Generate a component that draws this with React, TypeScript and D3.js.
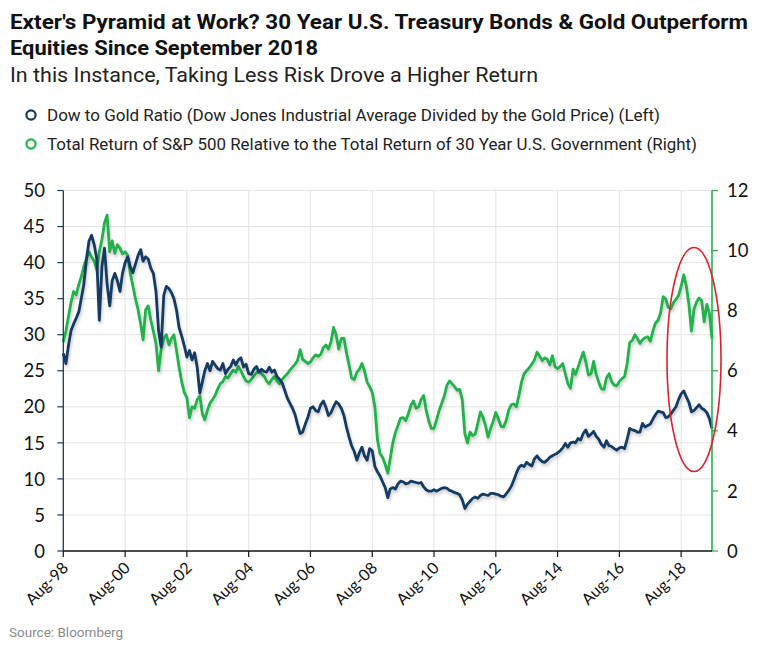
import React from 'react';
import * as d3 from 'd3';

// Monthly observations, Aug 1998 .. Aug 2019
const startYear = 1998;
const startMonth = 7; // August (0-based)

// Dow Jones Industrial Average divided by gold price (left axis)
const dowGold = [
  27.4, 26.0, 28.5, 30.6, 31.5, 32.3, 33.2, 35.0, 37.0, 40.4, 43.0, 43.8,
  42.5, 40.5, 32.0, 39.5, 42.0, 37.0, 34.0, 37.5, 38.5, 37.5, 36.0, 38.5,
  40.0, 40.8, 39.4, 38.6, 39.8, 41.0, 41.8, 40.2, 40.8, 40.5, 39.2, 38.5,
  36.0, 30.5, 28.3, 35.5, 36.7, 36.4, 35.8, 35.0, 33.4, 31.0, 29.8, 28.5,
  26.9, 27.8, 26.5, 27.5, 25.5, 21.9, 23.5, 25.0, 26.0, 25.0, 26.3, 25.8,
  25.3, 25.1, 26.0, 24.6, 25.2, 25.6, 26.5, 25.8, 26.5, 26.8, 25.5, 25.9,
  24.6, 24.5, 25.2, 25.6, 24.8, 25.2, 24.9, 24.8, 25.5, 24.8, 25.1, 24.2,
  23.8, 23.3, 22.3, 21.2, 20.5, 19.8, 18.9, 17.6, 16.3, 16.5, 17.6, 18.5,
  19.8, 20.0, 19.5, 19.3, 20.3, 20.8, 19.9, 18.8, 19.2, 20.0, 20.7, 20.4,
  19.8, 18.8, 17.2, 15.8, 14.6, 13.8, 12.6, 13.6, 14.4, 13.2, 12.6, 14.2,
  13.9, 11.7, 11.0, 10.4, 9.6, 8.8, 7.4, 8.6, 8.8, 8.6, 9.3, 9.7,
  9.6, 9.3, 9.4, 9.7, 9.6, 9.5, 9.4, 9.5, 8.9, 8.5, 8.3, 8.3,
  8.5, 8.3, 8.5, 8.7, 8.8, 8.7, 8.4, 8.3, 8.1, 8.0, 7.8, 7.1,
  5.9, 6.5, 6.9, 7.3, 7.5, 7.3, 7.7, 7.9, 7.8, 7.7, 8.0, 8.0,
  7.9, 7.8, 7.6, 7.5, 7.9, 8.4, 9.0, 9.8, 10.8, 11.6, 11.9, 11.7,
  12.3, 12.0, 11.8, 12.8, 13.2, 12.7, 12.4, 12.3, 12.6, 13.0, 13.2, 13.4,
  13.6, 13.9, 14.3, 14.9, 14.4, 15.0, 15.1, 15.0, 15.6, 15.4, 16.3, 16.8,
  15.9, 16.2, 16.6, 15.9, 15.5, 14.8, 14.4, 15.3, 14.6, 14.5, 14.2, 14.0,
  14.3, 14.4, 14.2, 15.5, 17.0, 16.8, 16.7, 16.5, 16.5, 17.7, 17.2, 17.4,
  17.6, 18.3, 18.9, 19.4, 19.3, 19.2, 18.5, 18.6, 19.0, 19.5, 20.0, 21.0,
  21.8, 22.2, 21.4, 20.6, 19.3, 19.5, 19.9, 20.3, 19.8, 19.6, 19.2, 18.4,
  17.0,
];

// Total return of S&P 500 relative to total return of 30Y UST (right axis)
const spxVsBonds = [
  6.96, 7.32, 7.80, 8.28, 8.64, 8.52, 8.88, 9.12, 9.48, 9.72, 9.96, 9.79,
  9.65, 9.36, 9.96, 10.37, 10.92, 11.18, 9.96, 10.32, 9.91, 10.20, 10.08, 9.89,
  9.96, 9.84, 9.24, 8.83, 8.40, 8.04, 7.56, 7.03, 8.04, 8.16, 7.68, 7.32,
  6.91, 6.00, 6.72, 7.08, 7.20, 6.86, 7.08, 7.20, 6.67, 6.12, 5.64, 5.28,
  5.11, 4.44, 4.80, 4.75, 5.04, 5.16, 4.56, 4.37, 4.68, 4.92, 5.04, 5.18,
  5.40, 5.57, 5.64, 5.81, 5.76, 5.90, 6.02, 5.95, 6.14, 6.00, 5.81, 5.66,
  5.62, 5.71, 5.83, 5.93, 6.02, 5.90, 5.81, 5.66, 5.57, 5.71, 5.81, 5.66,
  5.57, 5.71, 5.81, 5.90, 6.02, 6.12, 6.22, 6.34, 6.70, 6.38, 6.31, 6.24,
  6.29, 6.43, 6.53, 6.48, 6.55, 6.77, 6.86, 6.72, 6.96, 7.44, 7.20, 6.72,
  7.08, 7.08, 6.60, 6.19, 5.76, 5.71, 5.95, 6.05, 6.24, 6.00, 5.62, 5.47,
  5.28, 4.80, 3.72, 3.24, 3.12, 2.88, 2.59, 3.07, 3.60, 3.94, 4.18, 4.42,
  4.44, 4.34, 4.56, 4.85, 4.99, 4.75, 4.80, 5.04, 5.18, 4.68, 4.32, 4.08,
  4.08, 4.37, 4.68, 4.92, 5.16, 5.52, 5.66, 5.57, 5.47, 5.35, 5.38, 5.04,
  3.91, 3.60, 3.96, 3.84, 3.89, 4.25, 4.63, 4.46, 4.18, 3.79, 4.08, 4.32,
  4.61, 4.39, 4.15, 4.13, 4.34, 4.70, 4.87, 4.90, 4.80, 5.18, 5.62, 5.90,
  6.00, 6.10, 6.22, 6.36, 6.62, 6.48, 6.34, 6.43, 6.38, 6.19, 6.50, 6.14,
  6.07, 6.14, 6.24, 5.90, 5.57, 5.42, 6.05, 5.88, 6.12, 6.38, 6.62, 6.29,
  5.86, 5.90, 6.31, 5.88, 5.62, 5.40, 5.38, 5.76, 5.90, 5.64, 5.52, 5.50,
  5.64, 5.74, 5.81, 6.24, 6.94, 7.01, 7.20, 7.08, 6.91, 7.03, 7.10, 7.13,
  6.98, 7.32, 7.58, 7.68, 7.92, 8.47, 8.38, 8.11, 8.06, 8.26, 8.38, 8.50,
  8.81, 9.19, 8.83, 8.21, 7.32, 8.06, 8.30, 8.42, 8.33, 7.63, 8.21, 7.92,
  7.08,
];

const xTickLabels = ['Aug-98', 'Aug-00', 'Aug-02', 'Aug-04', 'Aug-06', 'Aug-08', 'Aug-10', 'Aug-12', 'Aug-14', 'Aug-16', 'Aug-18'];
const leftTicks = [0, 5, 10, 15, 20, 25, 30, 35, 40, 45, 50];
const rightTicks = [0, 2, 4, 6, 8, 10, 12];

const titleLines = [
  "Exter's Pyramid at Work? 30 Year U.S. Treasury Bonds & Gold Outperform",
  'Equities Since September 2018',
];
const subtitle = 'In this Instance, Taking Less Risk Drove a Higher Return';
const legendItems = [
  'Dow to Gold Ratio (Dow Jones Industrial Average Divided by the Gold Price) (Left)',
  'Total Return of S&P 500 Relative to the Total Return of 30 Year U.S. Government (Right)',
];
const source = 'Source: Bloomberg';

const BLUE = '#133a63';
const GREEN = '#22b14c';

export default function App() {
  const W = 770;
  const H = 653;
  const left = 63.3;
  const right = 712;
  const bottom = 551;
  const top = 190.5;

  const start = new Date(startYear, startMonth, 1);
  const end = new Date(2019, 7, 1);
  const dateAt = (i: number) => d3.timeMonth.offset(start, i);

  const x = d3.scaleTime().domain([start, end]).range([left, right]);
  const yL = d3.scaleLinear().domain([0, 50]).range([bottom, top]);
  const yR = d3.scaleLinear().domain([0, 12]).range([bottom, top]);

  const lineL = d3.line<number>().x((_, i) => x(dateAt(i))).y((d) => yL(d));
  const lineR = d3.line<number>().x((_, i) => x(dateAt(i))).y((d) => yR(d));

  const tickDates = xTickLabels.map((_, k) => new Date(startYear + 2 * k, startMonth, 1));

  const tickFont = 'Lato, "Open Sans", sans-serif';
  const textFont = 'Roboto, "Liberation Sans", sans-serif';

  return (
    <svg width={W} height={H} style={{ position: 'absolute', left: 0, top: 0, background: '#fff' }}>
      <defs>
        <filter id="shadow" x="-5%" y="-5%" width="110%" height="120%">
          <feDropShadow dx="1" dy="2.5" stdDeviation="1.6" floodColor="#000" floodOpacity="0.22" />
        </filter>
      </defs>
      <rect x={0} y={0} width={W} height={H} fill="#fff" />

      {/* Titles */}
      <text x={10} y={29} fontFamily={textFont} fontWeight={700} fontSize={19.5} fill="#111" textLength={738} lengthAdjust="spacingAndGlyphs">{titleLines[0]}</text>
      <text x={10} y={55} fontFamily={textFont} fontWeight={700} fontSize={19.5} fill="#111" textLength={308} lengthAdjust="spacingAndGlyphs">{titleLines[1]}</text>
      <text x={10} y={82} fontFamily={textFont} fontWeight={400} fontSize={21} fill="#222" textLength={528} lengthAdjust="spacingAndGlyphs">{subtitle}</text>

      {/* Legend */}
      {legendItems.map((t, k) => (
        <g key={t}>
          <circle cx={31} cy={115 + k * 29} r={4.6} fill="none" stroke={k === 0 ? BLUE : GREEN} strokeWidth={2.2} />
          <text x={47} y={121 + k * 29} fontFamily={textFont} fontSize={16} fill="#222" textLength={k === 0 ? 613 : 650} lengthAdjust="spacingAndGlyphs">{t}</text>
        </g>
      ))}

      {/* Gridlines */}
      {leftTicks.slice(1).map((v) => (
        <line key={'h' + v} x1={left} x2={right} y1={yL(v)} y2={yL(v)} stroke="#e4e4e4" strokeWidth={1} />
      ))}
      {tickDates.slice(1).map((d, k) => (
        <line key={'v' + k} x1={x(d)} x2={x(d)} y1={top} y2={bottom} stroke="#e4e4e4" strokeWidth={1} />
      ))}

      {/* Series */}
      <path d={lineR(spxVsBonds) || ''} fill="none" stroke={GREEN} strokeWidth={2.8} strokeLinejoin="round" filter="url(#shadow)" />
      <path d={lineL(dowGold) || ''} fill="none" stroke={BLUE} strokeWidth={2.8} strokeLinejoin="round" filter="url(#shadow)" />

      {/* Left axis */}
      <line x1={left} x2={left} y1={top} y2={bottom} stroke={BLUE} strokeWidth={1.3} />
      {leftTicks.map((v) => (
        <g key={'l' + v}>
          <line x1={left - 6} x2={left} y1={yL(v)} y2={yL(v)} stroke={BLUE} strokeWidth={1.2} />
          <text x={45} y={yL(v)} dy="0.36em" textAnchor="end" fontFamily={tickFont} fontSize={18.5} fill="#111">{v}</text>
        </g>
      ))}

      {/* Right axis */}
      <line x1={right} x2={right} y1={top} y2={bottom} stroke={GREEN} strokeWidth={1.6} />
      {rightTicks.map((v) => (
        <g key={'r' + v}>
          <line x1={right} x2={right + 6} y1={yR(v)} y2={yR(v)} stroke={GREEN} strokeWidth={1.2} />
          <text x={727} y={yR(v)} dy="0.36em" textAnchor="start" fontFamily={tickFont} fontSize={18.5} fill="#111">{v}</text>
        </g>
      ))}

      {/* Bottom axis */}
      <line x1={left} x2={right} y1={bottom} y2={bottom} stroke="#111" strokeWidth={1.3} />
      {tickDates.map((d, k) => (
        <g key={'x' + k}>
          <line x1={x(d)} x2={x(d)} y1={bottom} y2={bottom + 6} stroke="#111" strokeWidth={1.2} />
          <text transform={`translate(${x(d) + 6},${bottom + 18}) rotate(-45)`} textAnchor="end" fontFamily={tickFont} fontSize={16} fill="#111">{xTickLabels[k]}</text>
        </g>
      ))}

      {/* Highlight ellipse */}
      <ellipse cx={694} cy={359.5} rx={27} ry={112} fill="none" stroke="#e0202a" strokeWidth={1.6} />

      {/* Source */}
      <text x={9} y={637} fontFamily={textFont} fontSize={13.5} fill="#8c8c8c">{source}</text>
    </svg>
  );
}
